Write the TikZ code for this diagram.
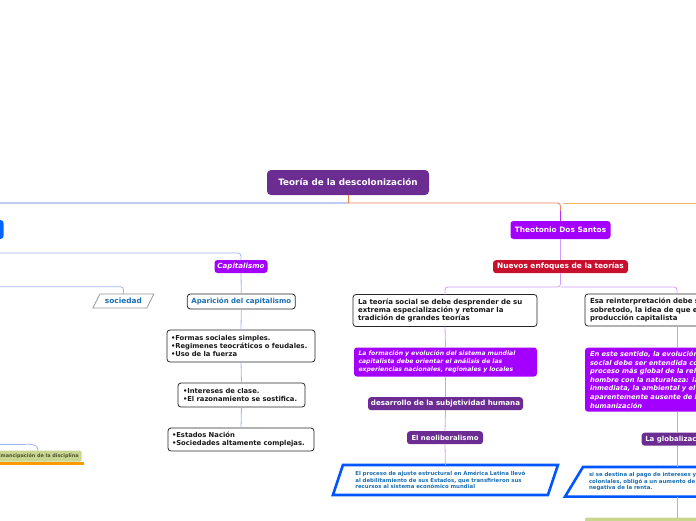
\documentclass[tikz,border=0pt]{standalone}
\usepackage{fontspec}
\setmainfont{DejaVu Sans}
\usetikzlibrary{calc}
\definecolor{tpurple}{RGB}{107,45,145}
\definecolor{cviol}{RGB}{163,0,255}
\definecolor{ccrim}{RGB}{200,16,46}
\definecolor{cbluebox}{RGB}{0,102,255}
\definecolor{cparab}{RGB}{0,85,255}
\definecolor{cbtext}{RGB}{25,110,180}
\definecolor{cgreen}{RGB}{200,214,143}
\definecolor{cgtext}{RGB}{80,80,50}
\definecolor{corange}{RGB}{255,153,0}
\definecolor{cortop}{RGB}{240,130,60}
\definecolor{cpink}{RGB}{238,125,100}
\definecolor{cyell}{RGB}{246,182,96}
\definecolor{cbl}{RGB}{70,110,225}
\definecolor{clb}{RGB}{160,180,242}
\definecolor{clav}{RGB}{210,155,255}
\definecolor{cgray}{RGB}{150,150,150}
\newcommand{\fsz}[2]{\fontsize{#1}{#2}\selectfont\bfseries}
\begin{document}
\begin{tikzpicture}[x=1pt,y=-1pt,
  every node/.style={inner sep=0pt, outer sep=0pt},
  lbl/.style={rounded corners=3pt, text=white, align=center},
  wbox/.style={draw=black!85, line width=0.8pt, fill=white, rounded corners=3pt, text=black!90, align=left},
  conn/.style={line width=0.8pt, rounded corners=3pt},
]
\useasboundingbox (0,0) rectangle (696,520);
\clip (0,0) rectangle (696,520);

% ---------- nodes ----------
\node[lbl, fill=tpurple, font=\fsz{8.8}{10}, minimum width=162pt, minimum height=25pt, rounded corners=4pt] (title) at (348,182.5) {Teoría de la descolonización};

\node[fill=cbluebox, rounded corners=3pt, minimum width=63pt, minimum height=19pt] (lefttop) at (-28,229.5) {};

% left branch
\node[lbl, fill=cviol, font=\fsz{7.1}{8}\itshape, minimum width=53pt, minimum height=13pt] (cap) at (241,266.5) {Capitalismo};
\node[text=cbtext, font=\fsz{7.4}{8}, minimum width=54pt, minimum height=14pt] (soc) at (123.4,301) {sociedad};
\draw[cgray, line width=0.8pt] ([xshift=3.5pt]soc.north west) -- ([xshift=3.5pt]soc.north east) -- ([xshift=-3.5pt]soc.south east) -- ([xshift=-3.5pt]soc.south west) -- cycle;

\node[wbox, text=cbtext, align=center, font=\fsz{7}{8}, minimum width=108pt, minimum height=15pt] (apar) at (241.3,301.5) {Aparición del capitalismo};
\node[wbox, font=\fsz{6.8}{8.4}, text width=140pt, inner xsep=4pt, minimum height=32pt] (formas) at (241,346) {•Formas sociales simples.\\•Regimenes teocráticos o feudales.\\•Uso de la fuerza};
\node[wbox, font=\fsz{6.8}{8.8}, text width=117pt, inner xsep=5pt, minimum height=24pt] (inter) at (241.5,395) {•Intereses de clase.\\•El razonamiento se sostifica.};
\node[wbox, font=\fsz{6.8}{8}, text width=138pt, inner xsep=4pt, minimum height=23pt] (estados) at (241,439.5) {•Estados Nación\\•Sociedades altamente complejas.};

\node[fill=cgreen, text=cgtext, font=\fsz{4.9}{6}, minimum width=87.4pt, minimum height=11pt, rounded corners=1.5pt] (emanc) at (38,456) {Emancipación de la disciplina};
\draw[corange, line width=2.5pt] ($(emanc.south west)+(-2,1.8)$) -- ($(emanc.south east)+(2.5,1.8)$);

% middle branch
\node[lbl, fill=cviol, font=\fsz{7.4}{8}, minimum width=100pt, minimum height=18pt] (theo) at (560.5,230) {Theotonio Dos Santos};
\node[lbl, fill=ccrim, font=\fsz{7.4}{8}, minimum width=135pt, minimum height=13pt] (nuev) at (560.5,266.7) {Nuevos enfoques de la teorías};

\node[wbox, font=\fsz{7}{8.2}, text width=174pt, inner xsep=5pt, minimum height=32pt] (teoria) at (445,310.5) {La teoría social se debe desprender de su\\extrema especialización y retomar la\\tradición de grandes teorías};
\node[lbl, fill=cviol, align=left, font=\fsz{6.1}{8}\itshape, text width=174pt, inner xsep=4.5pt, minimum height=29pt] (form) at (445.5,362) {La formación y evolución del sistema mundial\\capitalista debe orientar el análisis de las\\experiencias nacionales, regionales y locales};
\node[lbl, fill=tpurple, font=\fsz{7.1}{8}, minimum width=155pt, minimum height=13pt] (desa) at (445.5,403.7) {desarrollo de la subjetividad humana};
\node[lbl, fill=tpurple, font=\fsz{6.9}{8}, minimum width=76pt, minimum height=13pt] (neo) at (445,437.7) {El neoliberalismo};
\node[text=cbtext, align=left, font=\fsz{5.4}{6.3}, text width=180pt, inner xsep=17.5pt, minimum height=30pt] (parL) at (445.4,480) {El proceso de ajuste estructural en América Latina llevó\\al debilitamiento de sus Estados, que transfirieron sus\\recursos al sistema económico mundial};
\draw[cparab, line width=2.6pt, line join=miter] ([xshift=5pt]parL.north west) -- ([xshift=5pt]parL.north east) -- ([xshift=-5pt]parL.south east) -- ([xshift=-5pt]parL.south west) -- cycle;

% right branch
\node[wbox, font=\fsz{7}{8.2}, text width=174pt, inner xsep=5pt, minimum height=32pt] (esa) at (677,310) {Esa reinterpretación debe ser\\sobretodo, la idea de que es\\producción capitalista};
\node[lbl, fill=cviol, align=left, font=\fsz{6.7}{8.6}\itshape, text width=174pt, inner xsep=5pt, minimum height=64pt] (este) at (677,379.7) {En este sentido, la evolución\\social debe ser entendida como\\proceso más global de la relación\\hombre con la naturaleza: la\\inmediata, la ambiental y el\\aparentemente ausente de la\\humanización};
\node[lbl, fill=tpurple, font=\fsz{7}{8}, minimum width=70.6pt, minimum height=13pt] (glob) at (677,439.2) {La globalización};
\node[text=cbtext, align=left, font=\fsz{5.4}{6.3}, text width=176pt, inner xsep=15pt, minimum height=29.7pt] (parR) at (677,481.8) {si se destina al pago de intereses y\\coloniales, obligó a un aumento de la\\negativa de la renta.};
\draw[cparab, line width=2.6pt, line join=miter] ([xshift=9pt]parR.north west) -- ([xshift=9pt]parR.north east) -- ([xshift=-9pt]parR.south east) -- ([xshift=-9pt]parR.south west) -- cycle;
\node[fill=cgreen, minimum width=184pt, minimum height=25pt, rounded corners=2pt] (gbot) at (677,530) {};

% ---------- connectors ----------
\coordinate (hub) at ($(title.south)+(0,8)$);
\coordinate (offright) at (720,203);
\coordinate (offleft) at (-20,444.5);
\draw[conn, cortop] (title.south) -- (hub);
\draw[conn, cbl] (hub) -| (lefttop.north);
\draw[conn, cpink] (hub) -| ($(theo.north)+(0,-10)$);
\draw[conn, cviol!80] ($(theo.north)+(0,-10)$) -- (theo.north);
\draw[conn, cyell] ($(theo.north|-hub)+(2,0)$) -- (offright);

\draw[conn, clb] (lefttop.south) |- ($(cap.north)+(0,-7)$) -- (cap.north);
\draw[conn, clb] (lefttop.south) |- ($(soc.north)+(0,-7.3)$) -- (soc.north);
\draw[conn, clb] (cap.south) -- (apar.north);
\draw[conn, clb] (apar.south) -- (formas.north);
\draw[conn, clb] (formas.south) -- (inter.north);
\draw[conn, clb] (inter.south) -- (estados.north);
\draw[conn, clb] (offleft) -- (18,444.5) to[out=0,in=90] (emanc.north);

\draw[conn, clav] (theo.south) -- (nuev.north);
\coordinate (split) at ($(nuev.south)+(0,13.7)$);
\draw[conn, clav] (nuev.south) -- (split) -| (teoria.north);
\draw[conn, clav] (split) -| (esa.north);
\draw[conn, clav] (teoria.south) -- (form.north);
\draw[conn, clav] (form.south) -- (desa.north);
\draw[conn, clav] (desa.south) -- (neo.north);
\draw[conn, clav] (neo.south) -- (parL.north);
\draw[conn, clav] (esa.south) -- (este.north);
\draw[conn, clav] (este.south) -- (glob.north);
\draw[conn, clav] (glob.south) -- (parR.north);
\draw[conn, clav] (parR.south) -- (gbot.north);
\end{tikzpicture}
\end{document}
